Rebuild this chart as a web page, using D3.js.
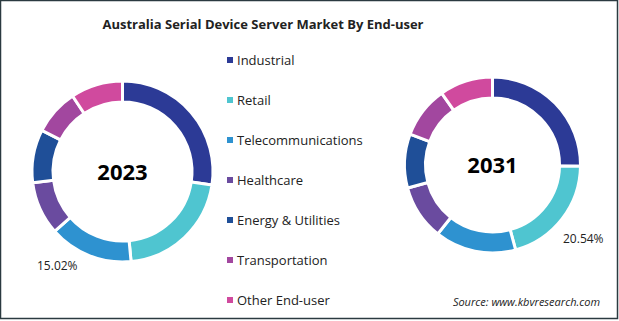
<!DOCTYPE html>
<html>
<head>
<meta charset="utf-8">
<script src="https://cdn.jsdelivr.net/npm/d3@7"></script>
<style>
	body { margin:0; background:#fff; }
	svg { display:block; font-family:"Open Sans", sans-serif; }
</style>
</head>
<body>
<div id="chart"></div>
<script>
//data
let categories = ["Industrial", "Retail", "Telecommunications", "Healthcare", "Energy & Utilities", "Transportation", "Other End-user"];
let share2023 = [27.4, 21.1, 15.02, 9.5, 9.5, 8.2, 9.3];
let share2031 = [25.2, 20.54, 14.9, 10.1, 9.9, 9.5, 9.8];
let colors = ["#2c3a96", "#4fc5d0", "#2e92d0", "#6a4b9f", "#1f4f98", "#a2479f", "#d04a9e"];

function chart(){

	let width = 619;
	let height = 321;

	let svg = d3.select("#chart")
		.append("svg")
		.attr("width", width)
		.attr("height", height);

	//frame
	svg.append("rect")
		.attr("x", 0.5).attr("y", 0.5)
		.attr("width", 617).attr("height", 318)
		.attr("fill", "#fff")
		.attr("stroke", "#2b3a40")
		.attr("stroke-width", 1.5);

	//title
	svg.append("text")
		.attr("x", 263).attr("y", 29)
		.attr("text-anchor", "middle")
		.attr("font-size", 13)
		.attr("font-weight", "bold")
		.attr("fill", "#222")
		.text("Australia Serial Device Server Market By End-user");

	const pie = d3.pie().sort(null).value(d => d);

	function donut(values, cx, cy, rOut, rIn, year, labelIdx, labelPos){
		let arc = d3.arc().innerRadius(rIn).outerRadius(rOut);
		let g = svg.append("g").attr("transform", `translate(${cx},${cy})`);
		g.selectAll("path")
			.data(pie(values))
			.enter()
			.append("path")
			.attr("d", arc)
			.attr("fill", (d, i) => colors[i])
			.attr("stroke", "#fff")
			.attr("stroke-width", 3);
		g.append("text")
			.attr("y", 8)
			.attr("text-anchor", "middle")
			.attr("font-size", 22)
			.attr("font-weight", "bold")
			.attr("fill", "#000")
			.text(year);
		svg.append("text")
			.attr("x", labelPos[0]).attr("y", labelPos[1])
			.attr("font-size", 12)
			.attr("fill", "#222")
			.text(values[labelIdx].toFixed(2) + "%");
	}

	donut(share2023, 122.5, 171.5, 90.5, 69.5, "2023", 2, [37, 270]);
	donut(share2031, 492.5, 165, 88, 67, "2031", 1, [563, 243]);

	//legend
	const yLegend = d3.scalePoint()
		.domain(categories)
		.range([60, 300]);

	let leg = svg.selectAll(".legend")
		.data(categories)
		.enter()
		.append("g")
		.attr("class", "legend")
		.attr("transform", d => `translate(227,${yLegend(d)})`);

	leg.append("rect")
		.attr("x", 0).attr("y", -3)
		.attr("width", 6).attr("height", 6)
		.attr("fill", (d, i) => colors[i]);

	leg.append("text")
		.attr("x", 10).attr("y", 4.5)
		.attr("font-size", 13)
		.attr("fill", "#222")
		.text(d => d);

	//source
	svg.append("text")
		.attr("x", 600).attr("y", 306)
		.attr("text-anchor", "end")
		.attr("font-size", 11)
		.attr("font-style", "italic")
		.attr("fill", "#222")
		.text("Source: www.kbvresearch.com");
}

chart();
</script>
</body>
</html>
